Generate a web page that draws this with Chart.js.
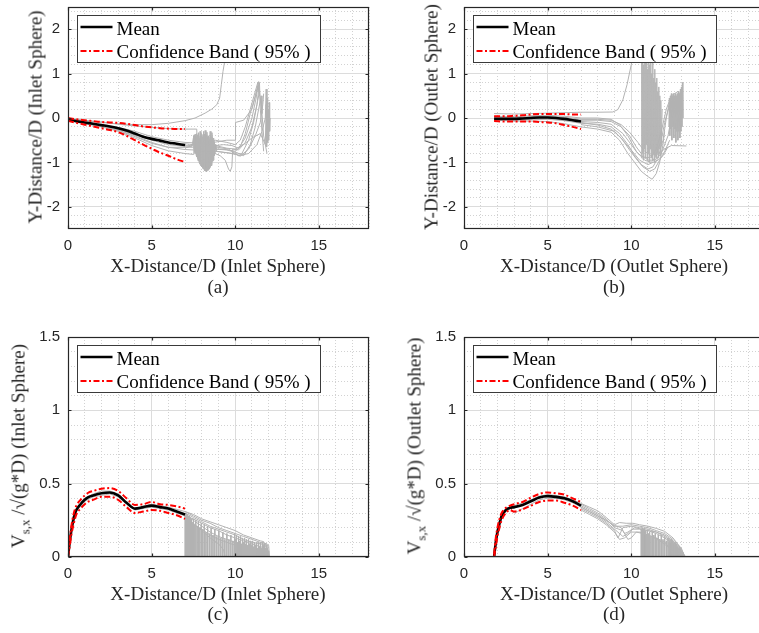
<!DOCTYPE html>
<html>
<head>
<meta charset="utf-8">
<script src="https://cdn.jsdelivr.net/npm/chart.js@4.4.0/dist/chart.umd.min.js"></script>
<style>
html, body { margin: 0; padding: 0; background: #fff; }
body { width: 759px; height: 633px; overflow: hidden; position: relative; }
canvas { position: absolute; }
.t { position: absolute; font-family: "Liberation Serif", "Times New Roman", serif; font-size: 19px; line-height: 19px; color: #262626; white-space: nowrap; }
.xt { transform: translateX(-50%); }
.yt { transform: translate(-50%, -50%) rotate(-90deg); }
.sub { font-size: 13px; position: relative; top: 5px; }
</style>
</head>
<body>
<canvas id="ca" width="380" height="269" style="left:0;top:-10px"></canvas>
<canvas id="cb" width="380" height="269" style="left:396px;top:-10px"></canvas>
<canvas id="cc" width="380" height="267" style="left:0;top:320px"></canvas>
<canvas id="cd" width="380" height="267" style="left:396px;top:320px"></canvas>

<div class="t yt" style="left:35px;top:117px">Y-Distance/D (Inlet Sphere)</div>
<div class="t xt" style="left:218px;top:256px">X-Distance/D (Inlet Sphere)</div>
<div class="t xt" style="left:218px;top:277px">(a)</div>

<div class="t yt" style="left:431px;top:117px">Y-Distance/D (Outlet Sphere)</div>
<div class="t xt" style="left:614px;top:256px">X-Distance/D (Outlet Sphere)</div>
<div class="t xt" style="left:614px;top:277px">(b)</div>

<div class="t yt" style="left:19px;top:446px">V<span class="sub">s,x</span> /√(g*D) (Inlet Sphere)</div>
<div class="t xt" style="left:218px;top:584px">X-Distance/D (Inlet Sphere)</div>
<div class="t xt" style="left:218px;top:604px">(c)</div>

<div class="t yt" style="left:415px;top:446px">V<span class="sub">s,x</span> /√(g*D) (Outlet Sphere)</div>
<div class="t xt" style="left:614px;top:584px">X-Distance/D (Outlet Sphere)</div>
<div class="t xt" style="left:614px;top:604px">(d)</div>

<script>
// ---- ticks ----
var X_TICKS = [0,1,2,3,4,5,6,7,8,9,10,11,12,13,14,15,16,17,18];
var X_LABELS = [0,5,10,15];
var POS_TICKS = [-2.4,-2.2,-2,-1.8,-1.6,-1.4,-1.2,-1,-0.8,-0.6,-0.4,-0.2,0,0.2,0.4,0.6,0.8,1,1.2,1.4,1.6,1.8,2,2.2,2.4];
var POS_LABELS = [-2,-1,0,1,2];
var VEL_TICKS = [0,0.1,0.2,0.3,0.4,0.5,0.6,0.7,0.8,0.9,1,1.1,1.2,1.3,1.4,1.5];
var VEL_LABELS = [0,0.5,1,1.5];

// ---- (a) inlet sphere, Y vs X ----
var A_X     = [0, 0.5, 1, 1.5, 2, 2.5, 3, 3.5, 4, 4.5, 5, 5.5, 6, 6.5, 7];
var A_MEAN  = [-0.03, -0.07, -0.10, -0.13, -0.16, -0.19, -0.23, -0.28, -0.35, -0.42, -0.47, -0.51, -0.55, -0.58, -0.61];
var A_UPPER = [0.0, -0.03, -0.05, -0.07, -0.09, -0.10, -0.11, -0.13, -0.16, -0.19, -0.21, -0.23, -0.24, -0.25, -0.25];
var A_LOWER = [-0.06, -0.11, -0.15, -0.19, -0.23, -0.27, -0.32, -0.40, -0.50, -0.60, -0.69, -0.78, -0.85, -0.93, -0.99];

var A_RUN1 = [[0,-0.02],[1,-0.06],[2,-0.1],[3,-0.13],[4,-0.15],[5,-0.15],[6,-0.12],[7,-0.06],[7.6,0.0],[8.2,0.11],[8.6,0.2],[8.9,0.3],[9.07,0.45],[9.17,0.75],[9.27,1.05],[9.38,1.3],[9.45,1.6]];
var A_RUN2 = [[0,-0.01],[1,-0.05],[2,-0.09],[3,-0.14],[4,-0.18],[5,-0.21],[6,-0.24],[7,-0.25],[7.7,-0.25],[7.72,-0.55],[8.0,-0.6],[8.7,-0.55],[9.5,-0.5],[10.0,-0.5],[10.02,-0.1],[10.5,-0.05],[11.0,0.2],[11.4,0.75]];
var A_RUN3 = [[0,-0.03],[1,-0.1],[2,-0.17],[3,-0.24],[4,-0.36],[5,-0.48],[6,-0.56],[7,-0.62],[7.4,-0.65],[7.5,-0.45],[7.55,-0.7],[7.6,-0.4],[7.65,-0.8],[7.7,-0.35],[7.75,-0.9],[7.8,-0.4],[7.85,-1.0],[7.9,-0.3],[7.95,-1.07],[8.0,-0.36],[8.05,-1.12],[8.1,-0.4],[8.15,-1.17],[8.2,-0.28],[8.25,-1.2],[8.3,-0.38],[8.35,-1.18],[8.4,-0.4],[8.45,-1.14],[8.5,-0.3],[8.55,-1.08],[8.6,-0.45],[8.65,-0.98],[8.7,-0.5],[8.75,-0.85],[8.8,-0.6],[8.85,-0.7],[9.2,-0.7],[9.6,-0.72],[10.0,-0.75],[10.3,-0.65],[10.6,-0.35],[10.9,0.1],[11.2,0.5],[11.4,0.82],[11.5,0.4],[11.6,0.1]];
var A_RUN4 = [[0,-0.05],[1,-0.13],[2,-0.2],[3,-0.3],[4,-0.45],[5,-0.62],[6,-0.74],[7,-0.8],[7.5,-0.82],[7.525,-0.5],[7.575,-0.75],[7.625,-0.42],[7.675,-0.85],[7.725,-0.45],[7.775,-0.95],[7.825,-0.4],[7.875,-1.02],[7.925,-0.46],[7.975,-1.08],[8.025,-0.42],[8.075,-1.13],[8.125,-0.45],[8.175,-1.17],[8.225,-0.4],[8.275,-1.19],[8.325,-0.45],[8.375,-1.17],[8.425,-0.42],[8.475,-1.13],[8.525,-0.46],[8.575,-1.06],[8.625,-0.42],[8.675,-0.95],[8.725,-0.5],[8.8,-0.8],[9.1,-0.85],[9.4,-0.95],[9.6,-1.15],[9.7,-1.2],[9.8,-1.1],[9.85,-0.7],[10.2,-0.72],[10.6,-0.55],[11.0,-0.2],[11.3,0.3],[11.45,0.6]];
var A_RUN5 = [[0,-0.04],[1,-0.11],[2,-0.18],[3,-0.27],[4,-0.4],[5,-0.55],[6,-0.66],[7,-0.71],[7.5,-0.72],[8.0,-0.75],[8.8,-0.75],[9.5,-0.78],[10.0,-0.82],[10.4,-0.8],[10.8,-0.5],[11.1,-0.1],[11.3,0.3],[11.45,0.8],[11.5,0.2],[11.6,-0.3],[11.7,-0.75]];
var A_RUN6 = [[7,-0.58],[7.5,-0.6],[8.8,-0.62],[9.5,-0.68],[10,-0.7],[10.5,-0.6],[11.0,-0.45],[11.5,-0.35],[11.8,-0.6],[11.85,0.3],[11.88,-0.65],[11.91,0.45],[11.94,-0.55],[11.97,0.2],[12.0,-0.5],[12.03,0.35],[12.06,-0.3],[12.09,0.0]];
var A_RUN7 = [[0,-0.03],[1,-0.09],[2,-0.15],[3,-0.21],[4,-0.3],[5,-0.42],[6,-0.5],[7,-0.55],[7.6,-0.56],[8.8,-0.5],[9.5,-0.55],[10.0,-0.6],[10.3,-0.5],[10.6,-0.2],[10.9,0.2],[11.2,0.6],[11.35,0.8],[11.45,0.5]];
var A_RUN8 = [[0,-0.04],[1,-0.12],[2,-0.19],[3,-0.28],[4,-0.42],[5,-0.57],[6,-0.66],[7,-0.66],[8.8,-0.65],[9.6,-0.7],[10.2,-0.85],[10.8,-0.8],[11.3,-0.6],[11.6,-0.3],[11.8,0.0],[11.85,0.65],[11.9,-0.2],[12.0,-0.5]];
var A_RUN9 = [[0,-0.04],[1,-0.1],[2,-0.16],[3,-0.25],[4,-0.38],[5,-0.5],[6,-0.6],[7,-0.64],[7.5,-0.6],[7.51,-0.4],[7.56,-0.72],[7.61,-0.36],[7.66,-0.82],[7.71,-0.42],[7.76,-0.92],[7.81,-0.33],[7.86,-1.01],[7.91,-0.44],[7.96,-1.08],[8.01,-0.38],[8.06,-1.13],[8.11,-0.3],[8.16,-1.18],[8.21,-0.43],[8.26,-1.2],[8.31,-0.32],[8.36,-1.18],[8.41,-0.44],[8.46,-1.14],[8.51,-0.38],[8.56,-1.07],[8.61,-0.33],[8.66,-0.97],[8.71,-0.45],[8.76,-0.84],[8.85,-0.62],[9.3,-0.6],[9.8,-0.62],[10.2,-0.68],[10.6,-0.45],[11.0,0.0],[11.25,0.45],[11.35,0.7]];
var A_RUN10 = [[7,-0.68],[7.53,-0.6],[7.54,-0.38],[7.59,-0.78],[7.64,-0.45],[7.69,-0.88],[7.74,-0.38],[7.79,-0.97],[7.84,-0.46],[7.89,-1.04],[7.94,-0.4],[7.99,-1.1],[8.04,-0.46],[8.09,-1.15],[8.14,-0.36],[8.19,-1.19],[8.24,-0.47],[8.29,-1.2],[8.34,-0.42],[8.39,-1.16],[8.44,-0.48],[8.49,-1.11],[8.54,-0.43],[8.59,-1.03],[8.64,-0.48],[8.69,-0.92],[8.74,-0.55],[8.9,-0.75],[9.4,-0.78],[9.9,-0.8],[10.3,-0.86],[10.8,-0.7],[11.2,-0.4],[11.5,-0.1],[11.65,0.3],[11.7,0.55]];
var A_RUN11 = [[8.8,-0.7],[9.5,-0.72],[10.1,-0.78],[10.5,-0.85],[10.9,-0.6],[11.2,-0.2],[11.4,0.2],[11.55,0.5],[11.6,0.1],[11.7,-0.4],[11.9,-0.8]];

// ---- (b) outlet sphere, Y vs X ----
var B_X     = [1.8, 2.5, 3, 3.5, 4, 4.5, 5, 5.5, 6, 6.5, 7];
var B_MEAN  = [-0.02, -0.02, -0.02, -0.01, 0.0, 0.01, 0.01, 0.0, -0.02, -0.05, -0.08];
var B_UPPER = [0.04, 0.04, 0.05, 0.06, 0.08, 0.09, 0.09, 0.09, 0.09, 0.08, 0.08];
var B_LOWER = [-0.07, -0.08, -0.08, -0.08, -0.08, -0.09, -0.1, -0.12, -0.16, -0.2, -0.25];

var B_RUN1 = [[1.8,0.1],[3,0.09],[4,0.1],[5,0.11],[6,0.12],[7,0.13],[8,0.13],[8.9,0.135],[9.2,0.19],[9.5,0.41],[9.75,0.75],[10.0,1.2],[10.2,1.6]];
var B_RUN2 = [[1.8,0.0],[3,0.0],[4,0.02],[5,0.03],[6,0.0],[7,-0.05],[8,-0.05],[8.8,-0.08],[9.4,-0.2],[9.9,-0.4],[10.3,-0.65],[10.7,-0.85],[11.0,-0.95],[11.4,-0.95],[11.8,-0.8],[12.2,-0.4],[12.4,0.0],[12.6,0.4]];
var B_RUN3 = [[1.8,-0.03],[3,-0.05],[4,-0.04],[5,-0.03],[6,-0.06],[7,-0.12],[8,-0.14],[8.8,-0.2],[9.3,-0.35],[9.8,-0.6],[10.2,-0.85],[10.6,-1.05],[11.0,-1.15],[11.3,-1.1],[11.6,-0.9],[11.9,-0.5],[12.1,0.0],[12.3,0.4],[12.4,0.5]];
var B_RUN4 = [[1.8,-0.05],[3,-0.07],[4,-0.07],[5,-0.08],[6,-0.13],[7,-0.2],[8,-0.25],[8.8,-0.32],[9.3,-0.5],[9.8,-0.8],[10.2,-1.0],[10.6,-1.2],[11.0,-1.32],[11.25,-1.38],[11.5,-1.25],[11.7,-1.0],[11.9,-0.6],[12.0,-0.3]];
var B_RUN5 = [[1.8,0.03],[3,0.03],[4,0.05],[5,0.06],[6,0.04],[7,0.0],[8,0.0],[8.8,-0.03],[9.3,-0.15],[9.8,-0.4],[10.3,-0.75],[10.8,-0.95],[11.2,-1.0],[11.6,-0.8],[12.0,-0.7],[12.4,-0.62],[13.3,-0.63]];
var B_RUN6 = [[1.8,-0.01],[3,-0.03],[4,-0.02],[5,-0.01],[6,-0.04],[7,-0.08],[8,-0.1],[8.8,-0.14],[9.5,-0.35],[10.0,-0.6],[10.4,-0.8],[10.8,-0.9],[11.2,-0.88],[11.5,-0.7],[11.8,-0.3],[12.1,0.2],[12.4,0.5],[12.8,0.6]];
var B_RUN7 = [[7,-0.15],[8,-0.2],[9,-0.3],[9.5,-0.5],[10.0,-0.72],[10.5,-0.95],[11.0,-1.05],[11.3,-1.0],[11.6,-0.95],[11.9,-0.85],[12.2,-0.65]];
var B_RUN8 = [[1.8,0.02],[3,0.01],[4,0.03],[5,0.04],[6,0.02],[7,-0.03],[8,-0.03],[8.8,-0.05],[9.4,-0.15],[9.9,-0.32],[10.4,-0.55],[10.8,-0.75],[11.2,-0.85],[11.5,-0.8],[11.8,-0.5],[12.0,-0.1],[12.3,0.3],[12.5,0.45]];
var B_RUN9 = [[7,-0.1],[8,-0.16],[8.8,-0.25],[9.4,-0.45],[9.9,-0.72],[10.3,-0.92],[10.7,-1.1],[11.1,-1.2],[11.4,-1.15],[11.7,-0.95],[12.0,-0.75],[12.3,-0.5]];
var B_JIT1 = [[10.6,-0.9],[10.63,1.4],[10.66,-0.8],[10.69,1.5],[10.72,-0.95],[10.75,1.2],[10.78,-0.7],[10.81,1.45],[10.84,-0.9],[10.87,1.3],[10.9,-0.6],[10.93,1.4],[10.96,-0.95],[10.99,1.1],[11.02,-0.8],[11.05,1.35],[11.08,-1.0],[11.11,1.2],[11.14,-0.7],[11.17,1.4],[11.2,-0.9],[11.23,1.0],[11.26,-0.95],[11.29,1.3],[11.32,-0.8],[11.35,0.9],[11.38,-1.0],[11.41,1.1],[11.44,-0.85],[11.47,0.8],[11.5,-0.9],[11.53,0.9],[11.56,-0.8],[11.59,0.6],[11.62,-0.9],[11.65,0.7],[11.68,-0.7],[11.71,0.5],[11.74,-0.85],[11.77,0.4],[11.8,-0.6],[11.85,0.2]];
var B_JIT2 = [[12.25,-0.2],[12.28,0.45],[12.31,-0.4],[12.34,0.5],[12.37,-0.25],[12.4,0.55],[12.43,-0.5],[12.46,0.5],[12.49,-0.2],[12.52,0.55],[12.55,-0.45],[12.58,0.5],[12.61,-0.25],[12.64,0.55],[12.67,-0.55],[12.7,0.5],[12.73,-0.3],[12.76,0.55],[12.79,-0.5],[12.82,0.6],[12.85,-0.3],[12.88,0.55],[12.91,-0.45],[12.94,0.65],[12.97,-0.3],[13.0,0.7],[13.03,-0.2],[13.06,0.8],[13.09,0.0]];

// ---- (c) inlet sphere, velocity ----
var C_X     = [0, 0.1, 0.2, 0.35, 0.5, 0.75, 1, 1.25, 1.5, 2, 2.5, 3, 3.5, 4, 4.5, 5, 5.5, 6, 6.5, 7];
var C_MEAN  = [0, 0.1, 0.18, 0.27, 0.32, 0.36, 0.39, 0.41, 0.42, 0.435, 0.44, 0.42, 0.37, 0.33, 0.34, 0.35, 0.34, 0.33, 0.31, 0.29];
var C_UPPER = [0.02, 0.12, 0.21, 0.30, 0.35, 0.39, 0.42, 0.44, 0.45, 0.465, 0.47, 0.45, 0.40, 0.355, 0.36, 0.375, 0.36, 0.355, 0.345, 0.33];
var C_LOWER = [0, 0.07, 0.15, 0.23, 0.29, 0.33, 0.36, 0.38, 0.39, 0.41, 0.41, 0.39, 0.34, 0.30, 0.31, 0.32, 0.315, 0.30, 0.285, 0.26];

var C_RUN1 = [[0,0],[0.2,0.19],[0.5,0.33],[1,0.4],[1.5,0.43],[2,0.45],[2.5,0.45],[3,0.43],[3.5,0.38],[4,0.33],[4.5,0.345],[5,0.36],[6,0.34],[7,0.31],[7.5,0.29],[8,0.26],[8.5,0.24],[9,0.22],[9.5,0.2],[10,0.18],[10.5,0.15],[11,0.13],[11.5,0.11],[11.7,0.105],[11.9,0.05],[12.0,0]];
var C_RUN2 = [[0,0],[0.2,0.17],[0.5,0.31],[1,0.38],[1.5,0.41],[2,0.42],[2.5,0.43],[3,0.41],[3.5,0.36],[4,0.32],[4.5,0.33],[5,0.34],[6,0.32],[7,0.28],[7.5,0.26],[8,0.23],[8.5,0.2],[9,0.18],[9.5,0.15],[10,0.13],[10.5,0.11],[11,0.09],[11.5,0.07],[11.8,0.06],[11.85,0]];
var C_RUN3 = [[7,0.29],[7.5,0.25],[8,0.21],[8.5,0.17],[9,0.14],[9.5,0.12],[10,0.1],[10.5,0.08],[11,0.06],[11.3,0.05],[11.35,0]];
var C_RUN4 = [[7,0.3],[7.5,0.27],[8,0.24],[8.5,0.21],[9,0.19],[9.5,0.17],[10,0.15],[10.5,0.12],[11,0.1],[11.5,0.09],[12.0,0.08],[12.05,0]];
var C_RUN5 = [[7,0.28],[7.5,0.23],[8,0.18],[8.5,0.13],[9,0.09],[9.3,0.05],[9.4,0]];
var C_RUN6 = [[7,0.31],[7.5,0.28],[8,0.25],[8.5,0.23],[9,0.2],[9.5,0.18],[10,0.16],[10.5,0.14],[11,0.12],[11.5,0.1],[11.9,0.09],[11.95,0]];
var C_RUN7 = [[7,0.27],[7.5,0.22],[8,0.19],[8.5,0.15],[9,0.12],[9.5,0.1],[10,0.08],[10.5,0.06],[10.8,0.04],[10.85,0]];
// [x, value just before the run stops]
var C_DROPS = [[7.01,0.3],[7.03,0.29],[7.05,0.3],[7.07,0.28],[7.09,0.29],[7.11,0.29],[7.13,0.27],[7.15,0.29],[7.17,0.28],[7.19,0.26],[7.21,0.28],[7.23,0.27],[7.25,0.28],[7.27,0.25],[7.29,0.27],[7.31,0.27],
    [7.34,0.24],[7.38,0.26],[7.44,0.23],[7.5,0.26],[7.57,0.22],[7.64,0.25],[7.72,0.21],[7.8,0.24],[7.88,0.2],[7.97,0.23],
    [8.06,0.19],[8.15,0.22],[8.25,0.17],[8.35,0.21],[8.45,0.16],[8.56,0.2],[8.67,0.15],[8.78,0.19],[8.9,0.14],
    [9.02,0.18],[9.14,0.13],[9.26,0.17],[9.38,0.12],[9.5,0.16],[9.62,0.12],[9.74,0.15],[9.86,0.11],[9.96,0.16],
    [10.02,0.12],[10.08,0.15],[10.14,0.1],[10.2,0.14],[10.26,0.11],[10.32,0.14],[10.38,0.09],[10.44,0.13],[10.5,0.1],[10.56,0.13],[10.62,0.09],[10.68,0.12],[10.74,0.08],[10.8,0.12],[10.86,0.09],[10.92,0.11],[10.98,0.08],
    [11.04,0.11],[11.1,0.07],[11.16,0.1],[11.22,0.08],[11.28,0.1],[11.34,0.06],[11.4,0.1],[11.46,0.07],[11.52,0.1],[11.58,0.06],[11.64,0.1],[11.7,0.08],[11.76,0.09],[11.82,0.06],[11.88,0.08],[11.94,0.06],[12.0,0.04]];

// ---- (d) outlet sphere, velocity ----
var D_X     = [1.8, 1.9, 2.0, 2.1, 2.25, 2.5, 2.75, 3, 3.5, 4, 4.5, 5, 5.5, 6, 6.5, 7];
var D_MEAN  = [0.0, 0.1, 0.17, 0.22, 0.28, 0.32, 0.335, 0.34, 0.355, 0.38, 0.405, 0.415, 0.41, 0.40, 0.38, 0.35];
var D_UPPER = [0.02, 0.13, 0.2, 0.25, 0.30, 0.335, 0.35, 0.36, 0.375, 0.405, 0.43, 0.44, 0.435, 0.425, 0.40, 0.375];
var D_LOWER = [0.0, 0.07, 0.14, 0.19, 0.25, 0.30, 0.32, 0.31, 0.325, 0.35, 0.375, 0.385, 0.385, 0.37, 0.35, 0.32];

var D_RUN1 = [[1.8,0],[2.0,0.18],[2.25,0.29],[2.5,0.33],[3,0.35],[3.5,0.37],[4,0.39],[4.5,0.415],[5,0.425],[5.5,0.42],[6,0.41],[6.5,0.39],[7,0.365],[7.5,0.34],[8,0.315],[8.5,0.27],[9,0.22],[9.3,0.235],[9.7,0.23],[10.1,0.23],[10.5,0.22],[11,0.21],[11.5,0.195],[12,0.175],[12.5,0.13],[12.9,0.07],[13.1,0.03],[13.25,0]];
var D_RUN2 = [[1.8,0],[2.0,0.15],[2.25,0.26],[2.5,0.31],[2.8,0.33],[3.0,0.3],[3.2,0.31],[3.5,0.33],[4,0.36],[4.5,0.39],[5,0.4],[5.5,0.4],[6,0.39],[6.5,0.37],[7,0.34],[7.5,0.31],[8,0.28],[8.5,0.24],[9,0.19],[9.2,0.17],[9.5,0.14],[9.8,0.16],[10.1,0.19],[10.5,0.19],[11,0.18],[11.5,0.16],[12,0.13],[12.5,0.09],[12.9,0.04],[13.0,0]];
var D_RUN3 = [[7,0.33],[7.5,0.3],[8,0.27],[8.5,0.23],[9,0.18],[9.2,0.13],[9.3,0.15],[9.5,0.2],[10,0.21],[10.5,0.2],[11,0.19],[11.5,0.17],[12,0.15],[12.5,0.11],[12.8,0.05],[12.9,0]];
var D_RUN4 = [[7,0.36],[7.5,0.33],[8,0.3],[8.5,0.26],[9,0.2],[9.5,0.18],[9.8,0.12],[10.0,0.13],[10.3,0.17],[10.7,0.16],[11.2,0.14],[11.7,0.11],[12.2,0.07],[12.5,0.02],[12.6,0]];
var D_RUN5 = [[7,0.35],[7.5,0.32],[8,0.29],[8.5,0.25],[9,0.21],[9.5,0.21],[10,0.22],[10.5,0.21],[11,0.2],[11.5,0.18],[12,0.16],[12.5,0.12],[13,0.06],[13.2,0]];
var D_RUN6 = [[7,0.34],[7.5,0.31],[8,0.28],[8.5,0.25],[9,0.215],[9.4,0.2],[9.6,0.16],[9.8,0.17],[10.2,0.2],[10.6,0.19],[11,0.18],[11.5,0.17],[12,0.14],[12.5,0.1],[12.8,0.06],[13.0,0.02],[13.05,0]];
var D_RUN7 = [[7,0.32],[7.5,0.29],[8,0.26],[8.5,0.22],[9,0.17],[9.3,0.12],[9.6,0.13],[10,0.17],[10.5,0.17],[11,0.15],[11.5,0.13],[12,0.1],[12.4,0.05],[12.5,0]];
var D_DROPS = [[10.6,0.19],[10.63,0.18],[10.66,0.2],[10.69,0.17],[10.72,0.19],[10.75,0.16],[10.78,0.19],[10.81,0.17],[10.85,0.18],[10.9,0.15],[10.96,0.18],
    [11.03,0.16],[11.1,0.17],[11.18,0.14],[11.26,0.17],[11.35,0.15],[11.44,0.16],[11.53,0.13],[11.62,0.15],[11.71,0.12],[11.8,0.15],[11.9,0.12],
    [12.0,0.14],[12.1,0.11],[12.2,0.13],[12.27,0.1],[12.32,0.12],[12.36,0.1],[12.4,0.12],[12.44,0.09],[12.48,0.11],[12.52,0.09],[12.56,0.1],[12.6,0.08],
    [12.64,0.1],[12.68,0.07],[12.72,0.09],[12.76,0.07],[12.8,0.08],[12.84,0.06],[12.88,0.07],[12.92,0.05],[12.96,0.06],[13.0,0.04],[13.05,0.04],[13.1,0.03]];

Chart.defaults.font.family = '"Liberation Sans", Arial, sans-serif';
Chart.defaults.font.size = 15;
Chart.defaults.color = '#262626';

var GRAY = '#b3b3b3';
var AXIS = '#262626';

function pairs(list) { return list.map(function (p) { return { x: p[0], y: p[1] }; }); }
function zip(xs, ys) { return xs.map(function (x, i) { return { x: x, y: ys[i] }; }); }
// each stop is a vertical segment down to zero, then a break
function drops(list) {
    var out = [];
    list.forEach(function (p) { out.push({ x: p[0], y: p[1] }, { x: p[0], y: 0 }, { x: p[0], y: null }); });
    return out;
}

function gray(data) { return { data: data, borderColor: GRAY, borderWidth: 1, pointRadius: 0, tension: 0, order: 3 }; }
function mean(xs, ys) { return { data: zip(xs, ys), borderColor: '#000', borderWidth: 2.6, pointRadius: 0, cubicInterpolationMode: 'monotone', order: 2 }; }
function band(xs, ys) { return { data: zip(xs, ys), borderColor: '#ff0000', borderWidth: 2, borderDash: [6, 2.5, 2, 2.5], pointRadius: 0, cubicInterpolationMode: 'monotone', order: 1 }; }

function axis(min, max, ticks, labels, isX) {
    var major = function (c) { return c.tick && labels.indexOf(c.tick.value) >= 0; };
    return {
        type: 'linear', min: min, max: max,
        afterBuildTicks: function (s) { s.ticks = ticks.map(function (v) { return { value: v }; }); },
        afterFit: function (s) { if (isX) s.height = 30; else s.width = 40; },
        ticks: { autoSkip: false, maxRotation: 0, padding: 8, color: AXIS,
                 callback: function (v) { return labels.indexOf(v) >= 0 ? String(v) : ''; } },
        grid: { drawTicks: false, lineWidth: 1,
                color: function (c) { return major(c) ? '#dcdcdc' : '#d2d2d2'; } },
        border: { display: false, dash: function (c) { return major(c) ? [] : [1, 2]; } }
    };
}

// box, inward ticks and legend drawn like a MATLAB axes
var frame = {
    id: 'frame',
    afterDatasetsDraw: function (chart) {
        var ctx = chart.ctx, a = chart.chartArea, sx = chart.scales.x, sy = chart.scales.y;
        var L = Math.round(a.left) + 0.5, R = Math.round(a.right) - 0.5;
        var T = Math.round(a.top) + 0.5, B = Math.round(a.bottom) - 0.5;
        ctx.save();
        ctx.strokeStyle = AXIS;
        ctx.lineWidth = 1.2;
        ctx.strokeRect(L, T, R - L, B - T);
        ctx.beginPath();
        chart.$xLabels.forEach(function (v) {
            var px = Math.round(sx.getPixelForValue(v)) + 0.5;
            ctx.moveTo(px, B); ctx.lineTo(px, B - 3);
            ctx.moveTo(px, T); ctx.lineTo(px, T + 3);
        });
        chart.$yLabels.forEach(function (v) {
            var py = Math.round(sy.getPixelForValue(v)) + 0.5;
            ctx.moveTo(L, py); ctx.lineTo(L + 3, py);
            ctx.moveTo(R, py); ctx.lineTo(R - 3, py);
        });
        ctx.stroke();

        // legend
        var bx = Math.round(a.left) + 9.5, by = Math.round(a.top) + 8.5;
        ctx.fillStyle = '#fff';
        ctx.fillRect(bx, by, 243, 47);
        ctx.strokeStyle = '#3a3a3a';
        ctx.lineWidth = 1;
        ctx.strokeRect(bx, by, 243, 47);
        ctx.lineWidth = 2.6;
        ctx.strokeStyle = '#000';
        ctx.beginPath(); ctx.moveTo(bx + 3, by + 11.5); ctx.lineTo(bx + 35, by + 11.5); ctx.stroke();
        ctx.lineWidth = 2;
        ctx.strokeStyle = '#ff0000';
        ctx.setLineDash([6, 2.5, 2, 2.5]);
        ctx.beginPath(); ctx.moveTo(bx + 3, by + 35.5); ctx.lineTo(bx + 35, by + 35.5); ctx.stroke();
        ctx.setLineDash([]);
        ctx.fillStyle = '#000';
        ctx.font = '19px "Liberation Serif", "Times New Roman", serif';
        ctx.textBaseline = 'alphabetic';
        ctx.fillText('Mean', bx + 39, by + 19);
        ctx.fillText('Confidence Band ( 95% )', bx + 39, by + 42);
        ctx.restore();
    }
};

function panel(id, datasets, yMin, yMax, yTicks, yLabels) {
    return new Chart(document.getElementById(id), {
        type: 'line',
        data: { datasets: datasets },
        options: {
            responsive: false,
            animation: false,
            events: [],
            spanGaps: false,
            layout: { padding: { top: 15, left: 28, right: 11, bottom: 0 } },
            plugins: { legend: { display: false }, tooltip: { enabled: false } },
            scales: {
                x: axis(0, 18, X_TICKS, X_LABELS, true),
                y: axis(yMin, yMax, yTicks, yLabels, false)
            }
        },
        plugins: [frame, {
            id: 'labels',
            beforeInit: function (c) { c.$xLabels = X_LABELS; c.$yLabels = yLabels; }
        }]
    });
}

panel('ca', [
    band(A_X, A_UPPER), band(A_X, A_LOWER), mean(A_X, A_MEAN),
    gray(pairs(A_RUN1)), gray(pairs(A_RUN2)), gray(pairs(A_RUN3)), gray(pairs(A_RUN4)),
    gray(pairs(A_RUN5)), gray(pairs(A_RUN6)), gray(pairs(A_RUN7)), gray(pairs(A_RUN8)),
    gray(pairs(A_RUN9)), gray(pairs(A_RUN10)), gray(pairs(A_RUN11))
], -2.5, 2.5, POS_TICKS, POS_LABELS);

panel('cb', [
    band(B_X, B_UPPER), band(B_X, B_LOWER), mean(B_X, B_MEAN),
    gray(pairs(B_RUN1)), gray(pairs(B_RUN2)), gray(pairs(B_RUN3)), gray(pairs(B_RUN4)),
    gray(pairs(B_RUN5)), gray(pairs(B_RUN6)), gray(pairs(B_RUN7)), gray(pairs(B_RUN8)),
    gray(pairs(B_RUN9)), gray(pairs(B_JIT1)), gray(pairs(B_JIT2))
], -2.5, 2.5, POS_TICKS, POS_LABELS);

panel('cc', [
    band(C_X, C_UPPER), band(C_X, C_LOWER), mean(C_X, C_MEAN),
    gray(pairs(C_RUN1)), gray(pairs(C_RUN2)), gray(pairs(C_RUN3)), gray(pairs(C_RUN4)),
    gray(pairs(C_RUN5)), gray(pairs(C_RUN6)), gray(pairs(C_RUN7)), gray(drops(C_DROPS))
], 0, 1.5, VEL_TICKS, VEL_LABELS);

panel('cd', [
    band(D_X, D_UPPER), band(D_X, D_LOWER), mean(D_X, D_MEAN),
    gray(pairs(D_RUN1)), gray(pairs(D_RUN2)), gray(pairs(D_RUN3)), gray(pairs(D_RUN4)),
    gray(pairs(D_RUN5)), gray(pairs(D_RUN6)), gray(pairs(D_RUN7)), gray(drops(D_DROPS))
], 0, 1.5, VEL_TICKS, VEL_LABELS);
</script>
</body>
</html>
